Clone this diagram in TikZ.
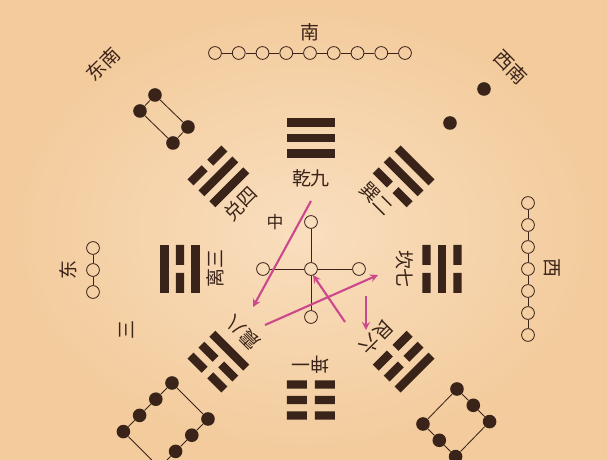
\documentclass[tikz,border=0pt]{standalone}
\usepackage{fontspec}
\newfontfamily\cjk{Noto Sans CJK SC}
\definecolor{mo}{RGB}{58,35,24}
\definecolor{fen}{RGB}{204,72,140}
\definecolor{zhi}{RGB}{249,222,190}
\definecolor{zhiout}{RGB}{243,203,156}
\tikzset{
  wdot/.style={circle,draw=mo,line width=.6pt,minimum size=.32cm,inner sep=0pt},
  bdot/.style={circle,fill=mo,minimum size=.34cm,inner sep=0pt},
  lab/.style={font=\cjk\fontsize{13.5}{13.5}\selectfont,text=mo,inner sep=1pt},
  jian/.style={->,draw=fen,line width=1.5pt},
  xian/.style={draw=mo,line width=.6pt}
}
% #1 angle, #2 #3 #4 lines from inner to outer (1 solid, 0 broken)
\newcommand{\gua}[4]{%
  \begin{scope}[shift={(#1:131)},rotate=#1-90]
    \foreach \t [count=\k] in {#2,#3,#4}{
      \ifnum\t=1 \fill[mo] (-24,15.5*\k-35.2) rectangle (24,15.5*\k-26.8);
      \else \fill[mo] (-24,15.5*\k-35.2) rectangle (-4,15.5*\k-26.8) (4,15.5*\k-35.2) rectangle (24,15.5*\k-26.8);\fi}
  \end{scope}}
\begin{document}
\begin{tikzpicture}[x=.025cm,y=.025cm,line join=round,>=stealth]
\clip (-311,-191) rectangle (296,269);
\shade[inner color=zhi,outer color=zhiout] (-311,-191) rectangle (296,269);
% trigrams
\gua{90}{1}{1}{1}
\gua{135}{1}{1}{0}
\gua{180}{1}{0}{1}
\gua{225}{1}{0}{0}
\gua{270}{0}{0}{0}
\gua{315}{0}{0}{1}
\gua{0}{0}{1}{0}
\gua{45}{0}{1}{1}
\node[lab] (qian) at (90:91) {乾九};
\node[lab,rotate=45] (dui) at (137:96) {兑四};
\node[lab,rotate=90] (li) at (180:96) {离三};
\node[lab,rotate=135] (zhen) at (223:93) {震八};
\node[lab,rotate=180] (kun) at (270:96) {坤一};
\node[lab,rotate=-135] (gen) at (314:95) {艮六};
\node[lab,rotate=-90] (kan) at (0:94) {坎七};
\node[lab,rotate=-45] (xun) at (47:96) {巽二};
% center cross
\node[wdot] (c0) at (0,0) {};
\node[wdot] (cn) at (0,47) {};
\node[wdot] (cw) at (-48,0) {};
\node[wdot] (ce) at (48,0) {};
\node[wdot] (cs) at (0,-48) {};
\draw[xian] (c0)--(cn) (c0)--(cw) (c0)--(ce) (c0)--(cs);
\node[lab,font=\cjk\fontsize{12}{12}\selectfont] (zhong) at (-36,47) {中};
\coordinate (p1) at (0,68); \coordinate (q1) at (-58,-38);
\coordinate (p2) at (-46,-56); \coordinate (q2) at (67,-6);
\coordinate (p3) at (34,-53); \coordinate (q3) at (2,-6);
\coordinate (p4) at (55,-27); \coordinate (q4) at (55,-61);
\draw[jian] (p1)--(q1);
\draw[jian] (p2)--(q2);
\draw[jian] (p3)--(q3);
\draw[jian] (p4)--(q4);
% south
\foreach \i in {0,...,8} \node[wdot] (nan\i) at (-96+23.75*\i,216) {};
\foreach \i [count=\j] in {0,...,7} \draw[xian] (nan\i)--(nan\j);
\node[lab] (nanl) at (-1,237) {南};
% west
\foreach \i in {0,...,6} \node[wdot] (xi\i) at (217,66-22*\i) {};
\foreach \i [count=\j] in {0,...,5} \draw[xian] (xi\i)--(xi\j);
\node[lab,rotate=-90] (xil) at (241,1) {西};
% east
\foreach \i in {0,...,2} \node[wdot] (dong\i) at (-218,21-22*\i) {};
\draw[xian] (dong0)--(dong1)--(dong2);
\node[lab,rotate=90] (dongl) at (-243,-1) {东};
\node[lab,rotate=90] (san) at (-184,-61) {三};
% south-west
\node[bdot] (xn1) at (173,180) {};
\node[bdot] (xn2) at (139,146) {};
\node[lab,rotate=-45] (xnl) at (200,202) {西南};
% south-east
\node[bdot] (dn1) at (-156,174) {};
\node[bdot] (dn2) at (-171,158) {};
\node[bdot] (dn3) at (-138,126) {};
\node[bdot] (dn4) at (-123,142) {};
\draw[xian] (dn1)--(dn2) (dn2)--(dn3) (dn3)--(dn4) (dn4)--(dn1);
\node[lab,rotate=45] (dnl) at (-208,205) {东南};
% north-east
\foreach \i in {0,...,3}{
  \node[bdot] (db\i) at (-139-16.2*\i,-114-16.2*\i) {};
  \node[bdot] (dc\i) at (-103-16.2*\i,-150-16.2*\i) {};}
\draw[xian] (db0)--(db1)--(db2)--(db3) (dc0)--(dc1)--(dc2)--(dc3) (db0)--(dc0) (db3)--(dc3);
% north-west
\foreach \i in {0,...,2}{
  \node[bdot] (xb\i) at (146+16.3*\i,-120-16.3*\i) {};
  \node[bdot] (xc\i) at (112+16.3*\i,-155-16.3*\i) {};}
\draw[xian] (xb0)--(xb1)--(xb2) (xc0)--(xc1)--(xc2) (xb0)--(xc0) (xb2)--(xc2);
\end{tikzpicture}
\end{document}
